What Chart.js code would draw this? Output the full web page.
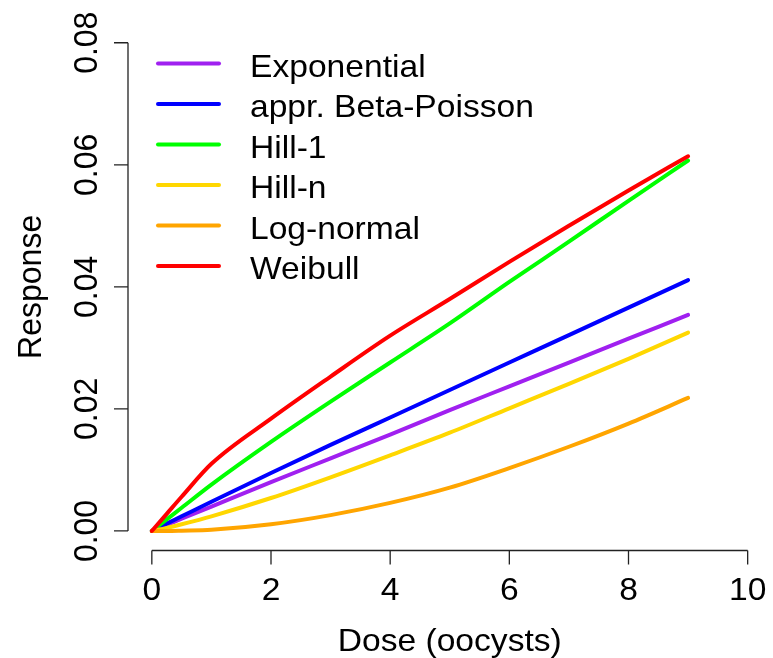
<!DOCTYPE html>
<html>
<head>
<meta charset="utf-8">
<title>Dose response</title>
<script src="https://cdn.jsdelivr.net/npm/chart.js@4/dist/chart.umd.min.js"></script>
<style>
  html, body { margin: 0; padding: 0; background: #fff; }
  #wrap { width: 773px; height: 658px; }
</style>
</head>
<body>
<div id="wrap"><canvas id="doseChart" width="773" height="658"></canvas></div>
<script>
// ============================================
// Data
// ============================================

const doses = [0, 0.25, 0.5, 1, 2, 3, 4, 5, 6, 7, 8, 9];

const exponential = [0, 0.0010, 0.0020, 0.0040, 0.0080, 0.0119, 0.0158, 0.0198, 0.0237, 0.0276, 0.0315, 0.0354];
const betaPoisson = [0, 0.0012, 0.0024, 0.0048, 0.0095, 0.0141, 0.0186, 0.0231, 0.0276, 0.0321, 0.0366, 0.0411];
const hill1       = [0, 0.0019, 0.0038, 0.0076, 0.0146, 0.0212, 0.0276, 0.0340, 0.0408, 0.0474, 0.0541, 0.0607];
const hillN       = [0, 0.0005, 0.0011, 0.0024, 0.0054, 0.0088, 0.0124, 0.0161, 0.0201, 0.0241, 0.0282, 0.0325];
const logNormal   = [0, 0.0000, 0.00005, 0.0002, 0.0011, 0.0026, 0.0046, 0.0071, 0.0103, 0.0138, 0.0176, 0.0218];
const weibull     = [0, 0.0028, 0.0056, 0.0110, 0.0184, 0.0253, 0.0320, 0.0380, 0.0441, 0.0500, 0.0558, 0.0614];

const seriesNames = ['Exponential', 'appr. Beta-Poisson', 'Hill-1', 'Hill-n', 'Log-normal', 'Weibull'];
const seriesValues = [exponential, betaPoisson, hill1, hillN, logNormal, weibull];
const seriesColors = ['#A020F0', '#0000FF', '#00FF00', '#FFD700', '#FFA500', '#FF0000'];

const xTicks = [0, 2, 4, 6, 8, 10];
const yTicks = [0, 0.02, 0.04, 0.06, 0.08];
const yTickLabels = ['0.00', '0.02', '0.04', '0.06', '0.08'];

const xTitle = 'Dose (oocysts)';
const yTitle = 'Response';

// ============================================
// R-style axes and legend
// ============================================

const FONT = '32px "Liberation Sans", Arial, sans-serif';
const SX = 1.05; // the reference text is a little wide

function drawText(ctx, text, x, y, align, rotated) {
  ctx.save();
  ctx.translate(x, y);
  ctx.scale(SX, 1);
  if (rotated) ctx.rotate(-Math.PI / 2);
  ctx.textAlign = align;
  ctx.textBaseline = 'alphabetic';
  ctx.fillText(text, 0, 0);
  ctx.restore();
}

const rAxes = {
  id: 'rAxes',
  afterDraw(chart) {
    const { ctx, chartArea } = chart;
    const xs = chart.scales.x;
    const ys = chart.scales.y;
    const tick = 14;

    ctx.save();
    ctx.strokeStyle = '#222';
    ctx.lineWidth = 1.3;
    ctx.fillStyle = '#000';
    ctx.font = FONT;

    // y axis
    const ax = chartArea.left;
    ctx.beginPath();
    ctx.moveTo(ax, ys.getPixelForValue(yTicks[0]));
    ctx.lineTo(ax, ys.getPixelForValue(yTicks[yTicks.length - 1]));
    yTicks.forEach(v => {
      const py = ys.getPixelForValue(v);
      ctx.moveTo(ax - tick, py);
      ctx.lineTo(ax, py);
    });
    ctx.stroke();
    yTicks.forEach((v, i) => {
      drawText(ctx, yTickLabels[i], 97, ys.getPixelForValue(v), 'center', true);
    });

    // x axis
    const ay = chartArea.bottom;
    ctx.beginPath();
    ctx.moveTo(xs.getPixelForValue(xTicks[0]), ay);
    ctx.lineTo(xs.getPixelForValue(xTicks[xTicks.length - 1]), ay);
    xTicks.forEach(v => {
      const px = xs.getPixelForValue(v);
      ctx.moveTo(px, ay);
      ctx.lineTo(px, ay + tick);
    });
    ctx.stroke();
    xTicks.forEach(v => {
      drawText(ctx, String(v), xs.getPixelForValue(v), 600, 'center', false);
    });

    // titles
    drawText(ctx, xTitle, (chartArea.left + chartArea.right) / 2, 651, 'center', false);
    drawText(ctx, yTitle, 41, (chartArea.top + chartArea.bottom) / 2, 'center', true);

    // legend
    ctx.lineWidth = 4;
    ctx.lineCap = 'round';
    chart.data.datasets
      .slice()
      .sort((a, b) => a.legendIndex - b.legendIndex)
      .forEach((ds, i) => {
        const ly = 63.5 + i * 40.5;
        ctx.strokeStyle = ds.borderColor;
        ctx.beginPath();
        ctx.moveTo(158, ly);
        ctx.lineTo(219, ly);
        ctx.stroke();
        drawText(ctx, ds.label, 250, ly + 13, 'left', false);
      });

    ctx.restore();
  }
};

// ============================================
// Chart
// ============================================

const datasets = seriesNames.map((name, i) => ({
  label: name,
  legendIndex: i,
  order: seriesNames.length - i,
  data: doses.map((d, j) => ({ x: d, y: seriesValues[i][j] })),
  borderColor: seriesColors[i],
  backgroundColor: seriesColors[i],
  borderWidth: 4,
  borderCapStyle: 'round',
  borderJoinStyle: 'round',
  pointRadius: 0,
  cubicInterpolationMode: 'monotone',
  fill: false
}));

new Chart(document.getElementById('doseChart'), {
  type: 'line',
  data: { datasets },
  options: {
    responsive: false,
    animation: false,
    layout: {
      padding: { left: 128, right: 1.5, top: 23.2, bottom: 107.5 }
    },
    plugins: {
      legend: { display: false },
      tooltip: { enabled: false }
    },
    scales: {
      x: { type: 'linear', min: -0.4, max: 10.4, display: false },
      y: { type: 'linear', min: -0.0032, max: 0.0832, display: false }
    }
  },
  plugins: [rAxes]
});
</script>
</body>
</html>
